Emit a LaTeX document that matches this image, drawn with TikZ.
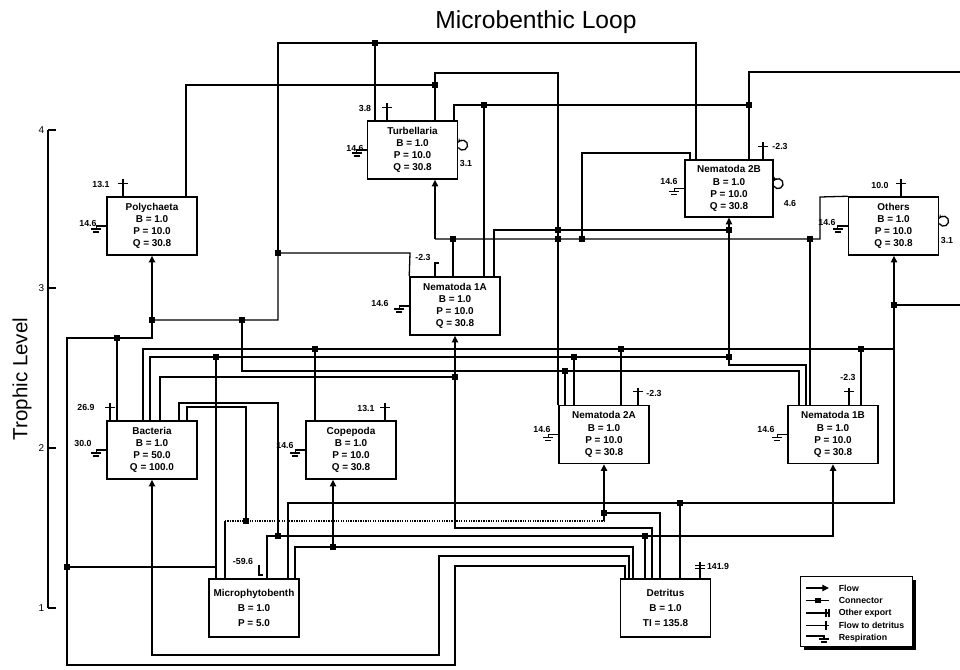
\documentclass[tikz,border=0pt]{standalone}
\usepackage{fontspec}
\setmainfont{Liberation Sans}
\usetikzlibrary{arrows.meta}

\tikzset{
  box/.style={draw, line width=1.3pt, fill=white, minimum width=27mm, minimum height=17.4mm,
    align=center, inner sep=1pt, font=\fontsize{8.5}{10.4}\selectfont\bfseries},
  wire/.style={line width=1.1pt},
  flow/.style={wire, -{Triangle[length=2mm,width=1.9mm]}},
  val/.style={inner sep=0.5pt, font=\fontsize{7.5}{8}\selectfont\bfseries},
}
% connector square
\newcommand{\sq}[1]{\fill (#1) ++(-2.8,-2.8) rectangle ++(5.6,5.6);}
% respiration symbol from a box side
\newcommand{\resp}[1]{\draw[wire] (#1) -- ++(-10,0) -- ++(0,3) ++(-5,0) -- ++(10,0) ++(-8,3) -- ++(6,0);}
% flow to detritus from a box top
\newcommand{\todet}[1]{\draw[wire] (#1) -- ++(0,-17) ++(-5,4) -- ++(10,0);}
% self loop on a box side
\newcommand{\selfloop}[1]{\draw[wire, -{Stealth[length=1.3mm]}] ([yshift=2pt]#1) arc[start angle=150, end angle=-150, radius=5];}

\begin{document}
\begin{tikzpicture}[x=0.3mm, y=-0.3mm]
\useasboundingbox (0,0) rectangle (960,669);

% title and axis
\node[font=\fontsize{21}{23}\selectfont] (title) at (536,22) {Microbenthic Loop};
\node[font=\fontsize{17.5}{19}\selectfont, rotate=90] (ylab) at (22,379) {Trophic Level};
\draw[wire] (48,130) -- (48,608);
\foreach \y/\t in {130/4, 288/3, 448/2, 608/1} {
  \draw[wire] (48,\y) -- (56,\y);
  \node[val, font=\fontsize{8.5}{9}\selectfont, anchor=east] at (45,\y) {\t};
}

% compartments
\node[box] (turb) at (412.5,150) {Turbellaria\\B = 1.0\\P = 10.0\\Q = 30.8};
\node[box, minimum width=26.4mm, minimum height=17mm] (n2b) at (729,188.5) {Nematoda 2B\\B = 1.0\\P = 10.0\\Q = 30.8};
\node[box] (oth) at (893.5,226) {Others\\B = 1.0\\P = 10.0\\Q = 30.8};
\node[box] (poly) at (152,226) {Polychaeta\\B = 1.0\\P = 10.0\\Q = 30.8};
\node[box] (n1a) at (455,306) {Nematoda 1A\\B = 1.0\\P = 10.0\\Q = 30.8};
\node[box] (bact) at (152,450) {Bacteria\\B = 1.0\\P = 50.0\\Q = 100.0};
\node[box] (cope) at (351,450) {Copepoda\\B = 1.0\\P = 10.0\\Q = 30.8};
\node[box] (n2a) at (604,434.5) {Nematoda 2A\\B = 1.0\\P = 10.0\\Q = 30.8};
\node[box] (n1b) at (833,434.5) {Nematoda 1B\\B = 1.0\\P = 10.0\\Q = 30.8};
\node[box, font=\fontsize{8.5}{12.8}\selectfont\bfseries] (micro) at (254,608) {Microphytobenth\\B = 1.0\\P = 5.0};
\node[box, font=\fontsize{8.5}{12.8}\selectfont\bfseries] (detr) at (665.5,608) {Detritus\\B = 1.0\\TI = 135.8};

% connector points
\coordinate (j1) at (375,43);   \coordinate (j2) at (278,253);  \coordinate (j3) at (152,320);
\coordinate (j4) at (242,320);  \coordinate (j5) at (117,338);  \coordinate (j6) at (67,567);
\coordinate (j7) at (435,85);   \coordinate (j8) at (484,105);  \coordinate (j9) at (749,105);
\coordinate (j10) at (453,239); \coordinate (j11) at (558,239); \coordinate (j12) at (582,239);
\coordinate (j13) at (810,239); \coordinate (j14) at (558,230); \coordinate (j15) at (729,230);
\coordinate (j16) at (894,305); \coordinate (j17) at (680,503); \coordinate (j18) at (315,349);
\coordinate (j19) at (621,349); \coordinate (j20) at (861,349); \coordinate (j21) at (216,357);
\coordinate (j22) at (574,357); \coordinate (j23) at (729,357); \coordinate (j24) at (565,371);
\coordinate (j25) at (455,377); \coordinate (j26) at (278,536); \coordinate (j27) at (645,536);
\coordinate (j28) at (246,521); \coordinate (j29) at (604,513); \coordinate (j30) at (333,547);

% top loop
\draw[wire] (turb.north -| j1) -- (j1);
\draw[wire] (j2) -- (278,43) -- (696,43) -- (n2b.north -| 696,0);
\draw[wire] (j3) -- (j4) -- (278,320) -- (j2) -- (410,253) -- (n1a.north west);
\draw[flow] (j3) -- (poly.south);
\draw[wire] (j3) -- (152,338) -- (67,338) -- (67,665) -- (455,665) -- (455,566) -- (625,566) -- (detr.north -| 625,0);
\draw[wire] (j5) -- (bact.north -| j5);
\draw[wire] (j6) -- (216,567);
\draw[wire] (j4) -- (242,371) -- (799,371) -- (n1b.north -| 799,0);
\draw[wire] (j24) -- (n2a.north -| j24);

% upper links
\draw[wire] (poly.north -| 186,0) -- (186,85) -- (j7);
\draw[wire] (turb.north -| j7) -- (435,73) -- (558,73) -- (j14) -- (j11) -- (n2a.north -| j11);
\draw[wire] (turb.north -| 454,0) -- (454,105) -- (j8) -- (j9) -- (n2b.north -| j9);
\draw[wire] (j9) -- (749,72) -- (960,72);
\draw[wire] (j8) -- (n1a.north -| j8);
\draw[wire] (n2b.north -| 690,0) -- (690,153) -- (582,153) -- (j12);
\draw[flow] (435,239) -- (turb.south -| 435,0);
\draw[wire] (435,239) -- (j10) -- (j11) -- (j12) -- (j13) -- (820,239) -- (820,197) -- (oth.north west);
\draw[wire] (j10) -- (n1a.north -| j10);
\draw[wire] (j13) -- (n1b.north -| j13);
\draw[wire] (n1a.north -| 494,0) -- (494,230) -- (j14) -- (j15);
\draw[flow] (j15) -- (n2b.south -| j15);
\draw[wire] (j15) -- (j23) -- (729,365) -- (806,365) -- (n1b.north -| 806,0);

% others
\draw[flow] (j16) -- (oth.south -| j16);
\draw[wire] (j16) -- (960,305);
\draw[wire] (j16) -- (894,503) -- (j17) -- (288,503) -- (micro.north -| 288,0);
\draw[wire] (j17) -- (detr.north -| j17);

% bacteria
\draw[wire] (bact.north -| 143,0) -- (143,349) -- (j18) -- (j19) -- (j20) -- (894,349);
\draw[wire] (j18) -- (cope.north -| j18);
\draw[wire] (j19) -- (n2a.north -| j19);
\draw[wire] (j20) -- (n1b.north -| j20);
\draw[wire] (bact.north -| 150,0) -- (150,357) -- (j21) -- (j22) -- (j23);
\draw[wire] (j21) -- (micro.north -| j21);
\draw[wire] (j22) -- (n2a.north -| j22);
\draw[wire] (bact.north -| 160,0) -- (160,377) -- (j25);
\draw[flow] (detr.north -| 652,0) -- (652,528) -- (455,528) -- (n1a.south -| 455,0);
\draw[wire] (bact.north -| 179,0) -- (179,403) -- (278,403) -- (j26);
\draw[flow] (micro.north -| 267,0) -- (267,536) -- (j26) -- (j27) -- (833,536) -- (n1b.south);
\draw[wire] (j27) -- (detr.north -| j27);
\draw[wire] (bact.north -| 187,0) -- (187,407) -- (246,407) -- (j28);
\draw[wire] (micro.north -| 225,0) -- (225,521);
\draw[wire, densely dotted] (225,521) -- (j28) -- (604,521);
\draw[flow] (604,521) -- (j29) -- (n2a.south);
\draw[wire] (j29) -- (660,513) -- (detr.north -| 660,0);
\draw[wire] (micro.north -| 295,0) -- (295,547) -- (j30) -- (633,547) -- (detr.north -| 633,0);
\draw[flow] (j30) -- (cope.south -| j30);
\draw[flow] (detr.north -| 629,0) -- (629,556) -- (439,556) -- (439,655) -- (152,655) -- (bact.south);

\foreach \j in {1,...,30} \sq{j\j};

% respiration
\resp{turb.west}  \node[val] at (355,148) {14.6};
\resp{n2b.west}   \node[val] at (669,181) {14.6};
\resp{oth.west}   \node[val] at (827,222) {14.6};
\resp{poly.west}  \node[val] at (88,223) {14.6};
\resp{n1a.west}   \node[val] at (380,303) {14.6};
\resp{bact.west}  \node[val] at (83,443) {30.0};
\resp{cope.west}  \node[val] at (285,445) {14.6};
\resp{n2a.west}   \node[val] at (542,429) {14.6};
\resp{n1b.west}   \node[val] at (766,429) {14.6};

% flows to detritus
\todet{turb.north -| 387,0} \node[val] at (365,108) {3.8};
\todet{n2b.north -| 763,0}  \node[val] at (780,146) {-2.3};
\todet{oth.north -| 901,0}  \node[val] at (880,185) {10.0};
\todet{poly.north -| 123,0} \node[val] at (101,184) {13.1};
\todet{bact.north -| 110,0} \node[val] at (86,407) {26.9};
\todet{cope.north -| 385,0} \node[val] at (366,408) {13.1};
\todet{n2a.north -| 638,0}  \node[val] at (654,393) {-2.3};
\todet{n1b.north -| 849,0}  \node[val] at (848,377) {-2.3};

% other exports
\draw[wire] (n1a.north -| 435,0) -- (435,263) -- (439,263);
\node[val] at (423,257) {-2.3};
\draw[wire] (259,565) -- (259,575) -- (263,575);
\node[val] at (243,561) {-59.6};
\draw[wire] (detr.north -| 700,0) -- ++(0,-16) ++(-5,3) -- ++(10,0) ++(-10,3) -- ++(10,0);
\node[val] at (718,566) {141.9};

% self loops
\selfloop{turb.east} \node[val] at (466,163) {3.1};
\selfloop{n2b.east}  \node[val] at (790,203) {4.6};
\selfloop{oth.east}  \node[val] at (947,240) {3.1};

% legend
\fill[black] (804,580) rectangle (916,650);
\node[draw, fill=white, line width=1pt, minimum width=33.6mm, minimum height=21mm, anchor=north west] (leg) at (800,576) {};
\draw[flow] (806,588) -- (829,588);
\node[val, anchor=west] at (838,588) {Flow};
\draw[wire] (806,600.5) -- (829,600.5); \sq{818,600.5}
\node[val, anchor=west] at (838,600.5) {Connector};
\draw[wire] (806,613) -- (829,613) (826,609) -- (826,617) (829,609) -- (829,617);
\node[val, anchor=west] at (838,613) {Other export};
\draw[wire] (806,625.5) -- (829,625.5) (826,621) -- (826,630);
\node[val, anchor=west] at (838,625.5) {Flow to detritus};
\draw[wire] (806,636) -- (824,636) -- (824,639) (819,639) -- (829,639) (821,642) -- (827,642);
\node[val, anchor=west] at (838,638) {Respiration};
\end{tikzpicture}
\end{document}
